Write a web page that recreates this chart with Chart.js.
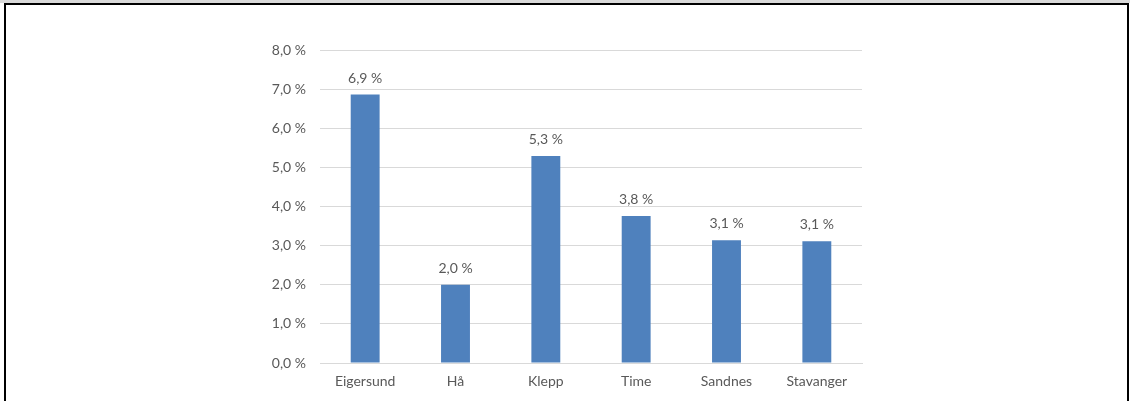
<!DOCTYPE html>
<html>
<head>
<meta charset="utf-8">
<script src="https://cdn.jsdelivr.net/npm/chart.js@4/dist/chart.umd.min.js"></script>
<style>
  html, body { margin: 0; padding: 0; background: #ffffff; }
  body { width: 1130px; height: 401px; position: relative; overflow: hidden; }
  #band { position: absolute; left: 0; top: 0; width: 1130px; height: 3px; background: #d9d9d9; }
  #frame { position: absolute; left: 4px; top: 3px; width: 1121px; height: 410px;
           border: 2px solid #000; border-bottom: none; pointer-events: none; }
  #wrap { position: absolute; left: 0; top: 0; width: 1130px; height: 401px; }
</style>
</head>
<body>
<div id="band"></div>
<div id="wrap"><canvas id="chart" width="1130" height="401"></canvas></div>
<div id="frame"></div>
<script>
// Kommuner og andel (prosent)
const categories = ['Eigersund', 'Hå', 'Klepp', 'Time', 'Sandnes', 'Stavanger'];
const shares = [6.86, 2.0, 5.29, 3.76, 3.14, 3.11];
const yTicks = [0, 1, 2, 3, 4, 5, 6, 7, 8];

const textColor = '#595959';
const gridColor = '#d9d9d9';
const barColor = '#4f81bd';
const fontFamily = 'Lato, "Open Sans", sans-serif';
const fontSize = 14;

const pct = v => v.toFixed(1).replace('.', ',') + ' %';

// Verdietiketter over hver søyle
const valueLabels = {
  id: 'valueLabels',
  afterDatasetsDraw(chart) {
    const ctx = chart.ctx;
    const meta = chart.getDatasetMeta(0);
    ctx.save();
    ctx.fillStyle = textColor;
    ctx.font = fontSize + 'px ' + fontFamily;
    ctx.textAlign = 'center';
    ctx.textBaseline = 'alphabetic';
    meta.data.forEach((bar, i) => {
      ctx.fillText(pct(shares[i]), bar.x, bar.y - 12);
    });
    ctx.restore();
  }
};

new Chart(document.getElementById('chart'), {
  type: 'bar',
  data: {
    labels: categories,
    datasets: [{
      data: shares,
      backgroundColor: barColor,
      borderWidth: 0,
      barPercentage: 0.32,
      categoryPercentage: 1.0
    }]
  },
  options: {
    responsive: false,
    animation: false,
    devicePixelRatio: 1,
    layout: { padding: { left: 250, right: 268, top: 50, bottom: 0 } },
    plugins: { legend: { display: false }, tooltip: { enabled: false } },
    scales: {
      x: {
        grid: { display: false, drawTicks: false },
        border: { display: true, color: gridColor, width: 1 },
        ticks: { color: textColor, font: { family: fontFamily, size: fontSize }, padding: 10, maxRotation: 0 },
        afterFit(scale) { scale.height = 38; }
      },
      y: {
        min: 0,
        max: 8,
        afterBuildTicks(scale) { scale.ticks = yTicks.map(v => ({ value: v })); },
        grid: { color: gridColor, lineWidth: 1, drawTicks: false },
        border: { display: false },
        ticks: {
          color: textColor,
          font: { family: fontFamily, size: fontSize },
          padding: 14,
          callback: v => pct(v)
        },
        afterFit(scale) { scale.width = 70; }
      }
    }
  },
  plugins: [valueLabels]
});
</script>
</body>
</html>
